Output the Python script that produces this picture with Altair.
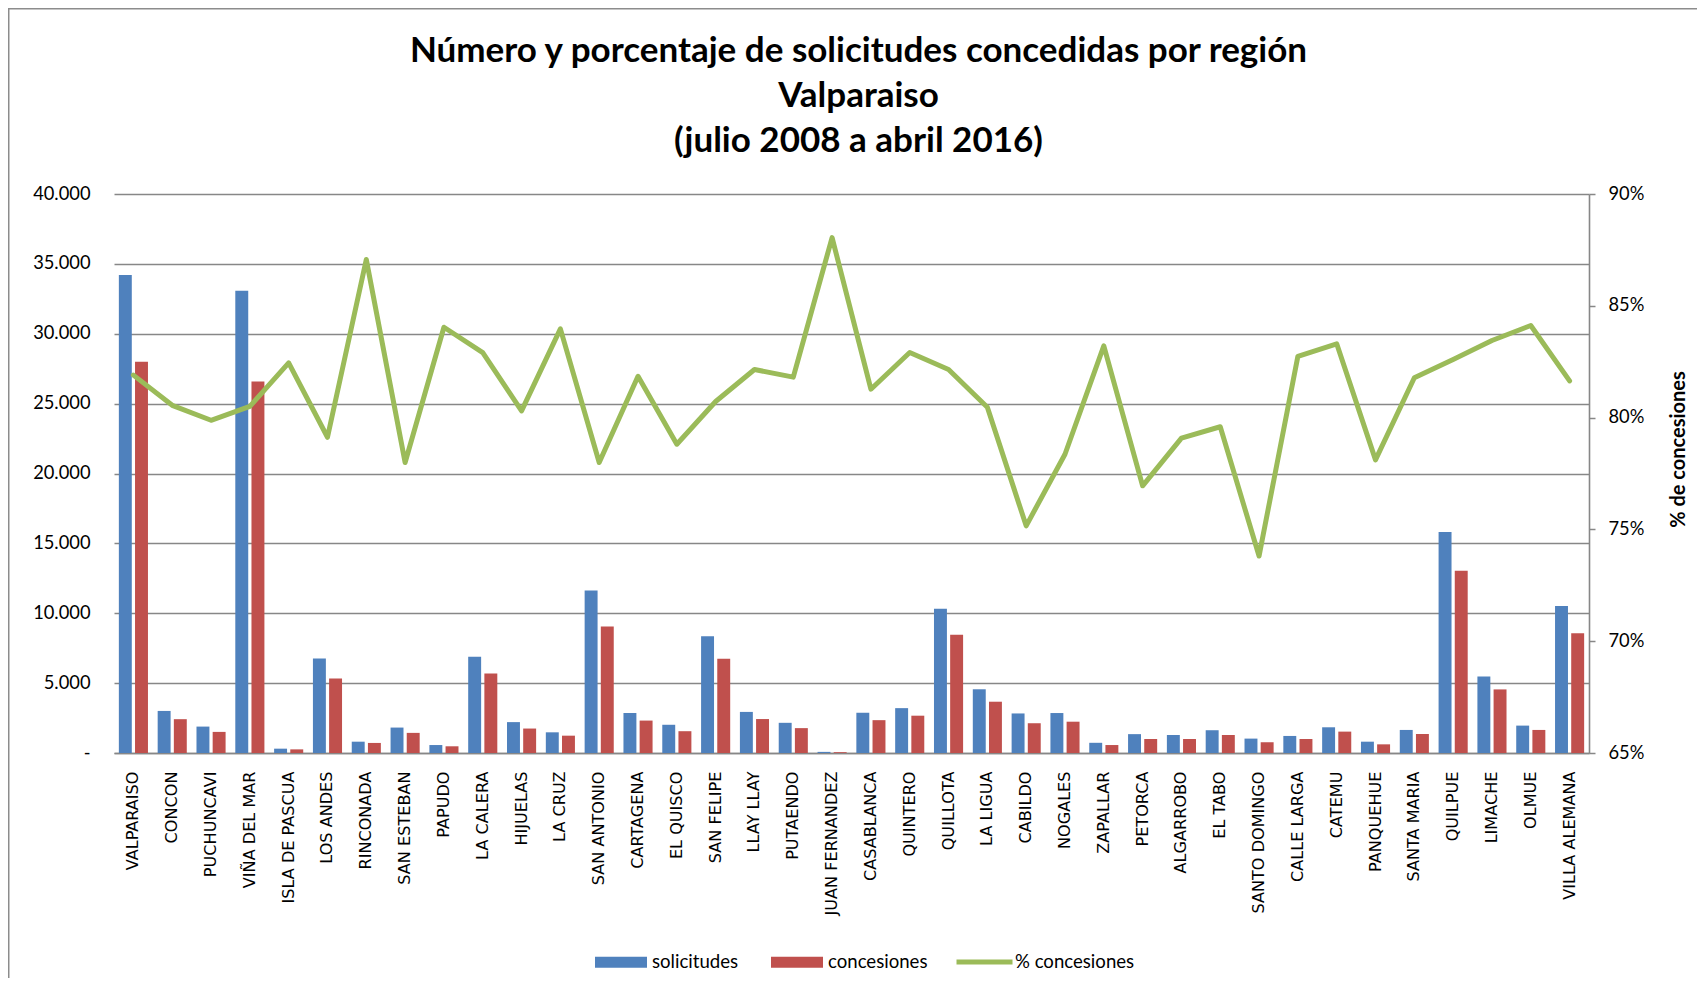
import altair as alt
import pandas as pd

categorias = [
    "VALPARAISO", "CONCON", "PUCHUNCAVI", "VIÑA DEL MAR", "ISLA DE PASCUA",
    "LOS ANDES", "RINCONADA", "SAN ESTEBAN", "PAPUDO", "LA CALERA",
    "HIJUELAS", "LA CRUZ", "SAN ANTONIO", "CARTAGENA", "EL QUISCO",
    "SAN FELIPE", "LLAY LLAY", "PUTAENDO", "JUAN FERNANDEZ", "CASABLANCA",
    "QUINTERO", "QUILLOTA", "LA LIGUA", "CABILDO", "NOGALES",
    "ZAPALLAR", "PETORCA", "ALGARROBO", "EL TABO", "SANTO DOMINGO",
    "CALLE LARGA", "CATEMU", "PANQUEHUE", "SANTA MARIA", "QUILPUE",
    "LIMACHE", "OLMUE", "VILLA ALEMANA",
]
solicitudes = [
    34200, 3010, 1890, 33070, 310,
    6770, 810, 1820, 570, 6890,
    2210, 1480, 11620, 2860, 2020,
    8360, 2940, 2160, 80, 2880,
    3210, 10320, 4560, 2830, 2860,
    730, 1350, 1290, 1630, 1030,
    1220, 1840, 810, 1650, 15820,
    5480, 1960, 10510,
]
concesiones = [
    28000, 2420, 1510, 26580, 260,
    5330, 720, 1440, 480, 5690,
    1750, 1240, 9060, 2320, 1560,
    6740, 2430, 1780, 60, 2350,
    2670, 8460, 3670, 2130, 2240,
    570, 1000, 1000, 1290, 770,
    1000, 1530, 620, 1360, 13050,
    4550, 1650, 8570,
]
porcentaje = [
    81.9, 80.55, 79.88, 80.5, 82.45,
    79.12, 87.07, 77.99, 84.04, 82.91,
    80.3, 83.97, 77.99, 81.85, 78.81,
    80.72, 82.15, 81.81, 88.05, 81.27,
    82.91, 82.15, 80.46, 75.16, 78.36,
    83.21, 76.95, 79.08, 79.59, 73.81,
    82.74, 83.3, 78.11, 81.78, 82.6,
    83.45, 84.12, 81.64,
]
series = ["solicitudes", "concesiones"]
serie_linea = ["% concesiones"]
colores_barras = ["#4F81BD", "#C0504D"]
color_linea = ["#9BBB59"]
ticks_izq = [0, 5000, 10000, 15000, 20000, 25000, 30000, 35000, 40000]
ticks_der = [65, 70, 75, 80, 85, 90]
titulo = [
    "Número y porcentaje de solicitudes concedidas por región",
    "Valparaiso",
    "(julio 2008 a abril 2016)",
]

W, H = 1475, 559
PAD = {"left": 106, "top": 186, "right": 108, "bottom": 225}
GRIS = "#878787"

bars_df = pd.DataFrame({
    "comuna": categorias * 2,
    "serie": [series[0]] * len(categorias) + [series[1]] * len(categorias),
    "valor": solicitudes + concesiones,
})
line_df = pd.DataFrame({
    "comuna": categorias,
    "pct": porcentaje,
    "serie": serie_linea * len(categorias),
})

x_axis = alt.Axis(
    title=None, labelAngle=270, labelFont="DejaVu Sans", labelFontSize=16.1,
    labelColor="black", ticks=False, tickSize=0, labelPadding=18,
    domainColor=GRIS, domainWidth=1.6, labelLimit=400,
)

bars = alt.Chart(bars_df).mark_bar().encode(
    x=alt.X("comuna:N", sort=categorias,
            scale=alt.Scale(paddingInner=0.25, paddingOuter=0.125), axis=x_axis),
    xOffset=alt.XOffset("serie:N", sort=series,
                        scale=alt.Scale(paddingInner=0.2, paddingOuter=0)),
    y=alt.Y("valor:Q",
            scale=alt.Scale(domain=[0, 40000], nice=False),
            axis=alt.Axis(
                title=None, values=ticks_izq, orient="left",
                labelExpr="datum.value == 0 ? '-\u00a0\u00a0\u00a0\u00a0\u00a0' : replace(format(datum.value, ','), ',', '.')",
                labelFont="Lato", labelFontSize=18.3, labelColor="black",
                grid=True, gridColor=GRIS, gridWidth=1.3,
                domain=False, ticks=False, tickSize=0, labelPadding=24,
            )),
    color=alt.Color("serie:N", sort=series,
                    scale=alt.Scale(domain=series, range=colores_barras),
                    legend=alt.Legend(
                        title=None, orient="none", direction="horizontal",
                        legendX=481, legendY=742,
                        symbolType="M-1,-0.21H1V0.21H-1Z", symbolSize=2704,
                        symbolStrokeWidth=0,
                        labelFont="Lato", labelFontSize=18.6, labelColor="black",
                        labelOffset=5, columnPadding=32, padding=0,
                    )),
)

line = alt.Chart(line_df).mark_line(
    strokeWidth=5, strokeCap="round", strokeJoin="round"
).encode(
    x=alt.X("comuna:N", sort=categorias),
    y=alt.Y("pct:Q",
            scale=alt.Scale(domain=[65, 90], nice=False, zero=False),
            axis=alt.Axis(
                orient="right", values=ticks_der, labelExpr="datum.value + '%'",
                labelFont="Lato", labelFontSize=18.3, labelColor="black",
                title="% de concesiones", titleAngle=270, titleX=89, titleY=255,
                titleAlign="center", titleBaseline="middle",
                titleFont="Lato", titleFontSize=20, titleFontWeight="bold",
                titleColor="black",
                grid=False, domain=True, domainColor=GRIS, domainWidth=1.6,
                ticks=True, tickSize=6, tickColor=GRIS, tickWidth=1.5,
                labelPadding=13,
            )),
    color=alt.Color("serie:N",
                    scale=alt.Scale(domain=serie_linea, range=color_linea),
                    legend=alt.Legend(
                        title=None, orient="none", direction="horizontal",
                        legendX=840, legendY=737.5,
                        symbolType="stroke", symbolSize=3136, symbolStrokeWidth=5,
                        labelFont="Lato", labelFontSize=18.6, labelColor="black",
                        labelOffset=0, padding=0,
                    )),
)

marco_izq = alt.Chart(pd.DataFrame({"k": [0]})).mark_rule(
    color="#8C8C8C", strokeWidth=1.6
).encode(x=alt.value(-105.3), y=alt.value(-186), y2=alt.value(H + PAD["bottom"]))
marco_sup = alt.Chart(pd.DataFrame({"k": [0]})).mark_rule(
    color="#8C8C8C", strokeWidth=1.6
).encode(x=alt.value(-106), x2=alt.value(W + PAD["right"]), y=alt.value(-185.3))

chart = alt.layer(bars, line, marco_izq, marco_sup).resolve_scale(
    y="independent", color="independent"
).resolve_legend(
    color="independent"
).properties(
    width=W, height=H,
    padding=PAD,
    background="white",
    autosize=alt.AutoSizeParams(type="none"),
    title=alt.TitleParams(
        text=titulo, font="Lato", fontSize=35, fontWeight="bold", color="black",
        anchor="middle", frame="group", lineHeight=45, offset=-152, dx=7,
    ),
).configure_axis(
    labelFont="Lato", labelFontSize=18, labelColor="black",
).configure_view(stroke=None)

chart.save("out.html", embed_options={"renderer": "svg", "actions": False})
